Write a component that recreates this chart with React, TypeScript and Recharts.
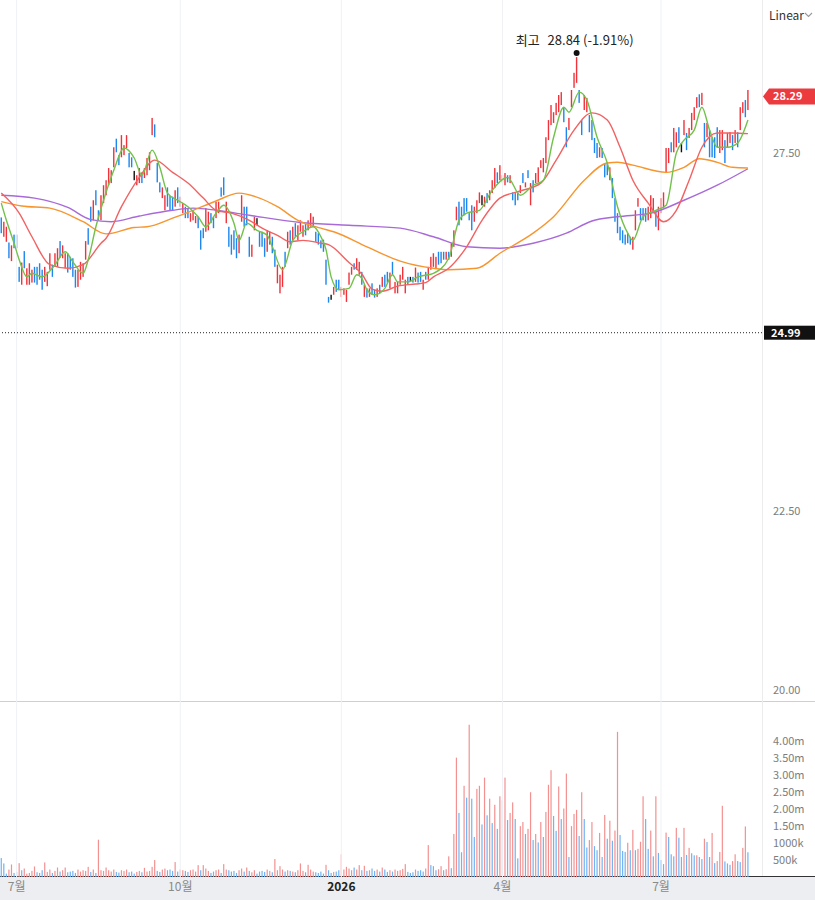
import React from "react";
import {
  ComposedChart,
  Bar,
  Line,
  XAxis,
  YAxis,
  ReferenceLine,
  ReferenceDot,
} from "recharts";

const FONT = '"Noto Sans CJK KR", "Noto Sans", sans-serif';

// daily price bars (low / high), oldest first
const lows = [
  26.38, 26.33, 26.26, 26.03, 25.99, 26.17, 26.17, 25.70, 25.66, 25.89,
  25.66, 25.66, 25.69, 25.69, 25.66, 25.73, 25.59, 25.70, 25.64, 25.87,
  25.77, 25.91, 25.91, 26.04, 26.03, 25.89, 25.83, 25.87, 25.77, 25.62,
  25.63, 25.73, 25.77, 26.01, 26.22, 26.54, 26.56, 26.77, 26.56, 26.56,
  26.80, 26.91, 27.05, 27.08, 27.30, 27.51, 27.33, 27.44, 27.47, 27.57,
  27.30, 27.30, 27.12, 27.05, 27.08, 27.08, 27.15, 27.19, 27.26, 27.75,
  27.72, 27.09, 26.95, 26.87, 26.70, 26.75, 26.70, 26.70, 26.75, 26.80,
  26.75, 26.66, 26.59, 26.59, 26.54, 26.56, 26.52, 26.45, 26.15, 26.31,
  26.40, 26.42, 26.52, 26.45, 26.59, 26.66, 26.89, 26.91, 26.52, 26.19,
  26.08, 26.15, 26.03, 26.10, 26.54, 26.47, 26.49, 26.05, 26.05, 26.42,
  26.49, 26.19, 26.19, 26.05, 26.12, 26.22, 26.10, 25.91, 25.68, 25.54,
  25.63, 25.91, 26.17, 26.22, 26.28, 26.33, 26.28, 26.40, 26.33, 26.35,
  26.42, 26.47, 26.47, 26.26, 26.22, 26.17, 26.12, 25.66, 25.41, 25.45,
  25.52, 25.56, 25.59, 25.49, 25.52, 25.42, 25.66, 25.80, 25.87, 25.87,
  25.80, 25.66, 25.49, 25.48, 25.49, 25.52, 25.48, 25.49, 25.54, 25.63,
  25.63, 25.69, 25.61, 25.80, 25.54, 25.54, 25.66, 25.73, 25.54, 25.66,
  25.70, 25.69, 25.70, 25.69, 25.70, 25.59, 25.73, 25.73, 25.87, 25.91,
  25.89, 25.94, 25.96, 26.01, 26.01, 26.01, 26.05, 26.19, 26.56, 26.49,
  26.56, 26.63, 26.68, 26.56, 26.42, 26.54, 26.66, 26.80, 26.77, 26.75,
  26.80, 26.84, 26.94, 27.01, 27.08, 27.12, 27.09, 27.05, 27.09, 27.08,
  26.84, 26.77, 26.84, 26.94, 27.08, 27.02, 27.15, 26.77, 26.95, 27.08,
  27.09, 27.29, 27.23, 27.36, 27.68, 27.89, 27.92, 28.03, 28.07, 28.17,
  27.93, 27.58, 27.82, 28.14, 28.41, 28.48, 28.20, 27.75, 28.10, 28.07,
  27.79, 27.68, 27.50, 27.43, 27.44, 27.43, 27.16, 27.19, 27.12, 26.87,
  26.54, 26.38, 26.28, 26.24, 26.22, 26.24, 26.22, 26.15, 26.42, 26.75,
  26.56, 26.56, 26.54, 26.56, 26.59, 26.66, 26.47, 26.42, 26.66, 26.73,
  27.22, 27.36, 27.51, 27.51, 27.58, 27.64, 27.51, 27.75, 27.54, 27.71,
  27.82, 27.96, 28.13, 28.14, 28.17, 27.58, 27.72, 27.44, 27.44, 27.43,
  27.58, 27.50, 27.54, 27.36, 27.58, 27.64, 27.54, 27.64, 27.58, 27.82,
  28.06, 28.00, 28.10,
];

const highs = [
  26.60, 26.54, 26.47, 26.25, 26.21, 26.36, 26.36, 25.91, 25.97, 26.13,
  25.89, 25.96, 25.87, 25.91, 25.91, 25.96, 25.87, 25.91, 25.84, 26.10,
  25.94, 26.10, 26.17, 26.27, 26.21, 26.10, 26.10, 26.05, 26.03, 25.87,
  25.87, 25.98, 25.96, 26.27, 26.45, 26.75, 26.84, 26.98, 26.70, 26.91,
  27.05, 27.12, 27.29, 27.26, 27.58, 27.70, 27.47, 27.75, 27.61, 27.75,
  27.50, 27.44, 27.25, 27.19, 27.29, 27.23, 27.29, 27.43, 27.51, 27.99,
  27.90, 27.36, 27.09, 27.02, 26.91, 27.02, 26.90, 26.89, 26.98, 27.02,
  26.89, 26.80, 26.75, 26.73, 26.66, 26.70, 26.62, 26.61, 26.42, 26.45,
  26.73, 26.68, 26.66, 26.61, 26.82, 26.82, 27.02, 27.16, 26.82, 26.47,
  26.36, 26.42, 26.31, 26.36, 26.91, 26.75, 26.75, 26.33, 26.22, 26.61,
  26.59, 26.40, 26.40, 26.31, 26.42, 26.40, 26.33, 26.15, 25.94, 25.80,
  25.91, 26.12, 26.40, 26.42, 26.47, 26.52, 26.49, 26.56, 26.49, 26.52,
  26.56, 26.66, 26.61, 26.40, 26.38, 26.28, 26.29, 26.01, 25.49, 25.52,
  25.63, 25.73, 25.73, 25.63, 25.61, 25.59, 25.83, 25.91, 25.96, 26.03,
  25.98, 25.84, 25.66, 25.61, 25.61, 25.68, 25.59, 25.61, 25.66, 25.77,
  25.80, 25.84, 25.83, 25.98, 25.70, 25.70, 25.80, 25.91, 25.73, 25.77,
  25.77, 25.77, 25.90, 25.83, 25.84, 25.73, 25.84, 25.91, 26.05, 26.10,
  26.05, 26.12, 26.12, 26.12, 26.12, 26.12, 26.24, 26.42, 26.75, 26.82,
  26.75, 26.87, 26.87, 26.66, 26.77, 26.75, 26.84, 26.95, 26.91, 26.89,
  26.94, 26.98, 27.12, 27.29, 27.23, 27.33, 27.19, 27.22, 27.19, 27.19,
  26.95, 26.94, 26.95, 27.05, 27.22, 27.09, 27.26, 27.08, 27.12, 27.22,
  27.30, 27.40, 27.43, 27.72, 27.96, 28.17, 28.07, 28.20, 28.31, 28.35,
  28.14, 27.86, 27.99, 28.38, 28.62, 28.84, 28.38, 27.96, 28.31, 28.27,
  28.03, 27.96, 27.71, 27.64, 27.58, 27.57, 27.36, 27.37, 27.30, 27.15,
  26.87, 26.66, 26.47, 26.42, 26.36, 26.38, 26.33, 26.33, 26.70, 26.87,
  26.73, 26.73, 26.73, 26.75, 26.91, 26.87, 26.68, 26.75, 26.87, 26.95,
  27.57, 27.57, 27.65, 27.85, 27.79, 27.86, 27.64, 27.96, 27.78, 27.85,
  28.06, 28.14, 28.28, 28.32, 28.34, 27.92, 27.92, 27.82, 27.72, 27.72,
  27.86, 27.82, 27.82, 27.68, 27.78, 27.79, 27.75, 27.82, 27.79, 28.14,
  28.21, 28.24, 28.38,
];

// r = up, b = down, k = unchanged
const barDir =
  "brrbrbbbrb" + "rrrbbbbrrr" + "brrbrrbbbb" + "rrrrbbrbbr" + "rrrrrbbrrr" +
  "bbkrrbrrrr" + "bbbrrbbbrb" + "rrbbrrrbbb" + "rrbbrrbbrb" + "bbbrrbbbrr" +
  "kbbbrrbbrr" + "rbrbrbrrrb" + "rrrbbbbbbk" + "rbbrrrrrbr" + "rbrbrbbrbr" +
  "bbrbrrrrrb" + "kbrbbrbrrr" + "rbbbrbrrrb" + "bbbbbrrrkr" + "brrrbrrrbr" +
  "bbbrbrbrbr" + "rrrrrrrrrr" + "bbrrrrbbrr" + "bbbbrbbbrb" + "bbbbbbbrrr" +
  "bbbrrrbrrr" + "rrbrrbkrbr" + "rrrbrbrbbb" + "brrbrrbrbr" + "rbr";

// volume, millions of shares
const volumes = [
  0.56, 0.40, 0.10, 0.22, 0.37, 0.12, 0.15, 0.41, 0.20, 0.25,
  0.10, 0.12, 0.18, 0.31, 0.14, 0.12, 0.20, 0.43, 0.15, 0.22,
  0.12, 0.18, 0.28, 0.16, 0.20, 0.28, 0.14, 0.16, 0.18, 0.12,
  0.22, 0.16, 0.20, 0.18, 0.30, 0.15, 0.22, 0.12, 1.10, 0.20,
  0.18, 0.28, 0.20, 0.16, 0.22, 0.15, 0.13, 0.20, 0.18, 0.22,
  0.14, 0.16, 0.10, 0.15, 0.18, 0.14, 0.27, 0.16, 0.18, 0.30,
  0.50, 0.18, 0.15, 0.22, 0.25, 0.20, 0.22, 0.18, 0.44, 0.16,
  0.22, 0.20, 0.18, 0.15, 0.20, 0.22, 0.16, 0.35, 0.20, 0.35,
  0.25, 0.18, 0.12, 0.16, 0.20, 0.22, 0.12, 0.38, 0.22, 0.20,
  0.16, 0.18, 0.12, 0.20, 0.25, 0.16, 0.28, 0.18, 0.14, 0.20,
  0.10, 0.16, 0.18, 0.15, 0.22, 0.18, 0.14, 0.53, 0.20, 0.32,
  0.22, 0.16, 0.20, 0.18, 0.16, 0.14, 0.20, 0.40, 0.18, 0.14,
  0.36, 0.22, 0.16, 0.14, 0.12, 0.16, 0.10, 0.36, 0.20, 0.12,
  0.15, 0.16, 0.20, 0.67, 0.22, 0.30, 0.25, 0.20, 0.28, 0.22,
  0.35, 0.20, 0.33, 0.18, 0.20, 0.25, 0.18, 0.22, 0.16, 0.28,
  0.22, 0.15, 0.20, 0.16, 0.22, 0.18, 0.20, 0.24, 0.38, 0.15,
  0.12, 0.14, 0.22, 0.18, 0.20, 0.16, 0.25, 0.94, 0.35, 0.32,
  0.20, 0.23, 0.32, 0.20, 0.23, 0.61, 0.26, 1.27, 3.52, 1.89,
  0.73, 2.69, 2.34, 4.49, 2.31, 1.18, 2.60, 2.69, 1.55, 2.93,
  1.82, 2.31, 1.59, 2.13, 1.42, 2.38, 2.26, 2.93, 1.68, 1.89,
  2.20, 1.71, 0.55, 1.50, 1.62, 1.27, 1.42, 2.50, 1.09, 1.27,
  1.02, 1.62, 1.18, 1.92, 2.72, 3.15, 1.80, 1.36, 2.67, 1.71,
  2.02, 3.05, 0.59, 1.50, 1.86, 1.98, 1.21, 2.50, 1.71, 0.87,
  1.09, 1.62, 0.91, 0.79, 1.30, 0.59, 1.83, 1.13, 1.66, 1.07,
  1.37, 4.28, 1.24, 0.77, 0.74, 1.01, 0.79, 1.39, 0.79, 0.83,
  1.04, 2.38, 1.71, 0.83, 1.37, 0.61, 2.38, 0.71, 0.50, 0.38,
  1.31, 1.18, 0.67, 0.61, 1.45, 1.16, 0.59, 1.45, 0.65, 0.86,
  0.70, 0.64, 0.64, 0.59, 0.53, 1.13, 1.03, 0.59, 1.30, 0.41,
  0.47, 0.74, 2.10, 0.46, 0.40, 0.36, 0.47, 0.67, 0.47, 0.44,
  0.86, 1.49, 0.73,
];

const volDir =
  "bbbrrbbrbr" + "rrrrbbbrrr" + "brrbrrbbbb" + "rrrrrbrbrr" + "rrrrrbbrrr" +
  "bbbrrbrrrr" + "rbbrrbbbrb" + "rrbbrrrrbr" + "rrbbrrbrrb" + "bbbrrbrbrr" +
  "bbbbrrbrrr" + "rbrbrbrrrb" + "rrrbbbbrbb" + "rbbrrrrrbr" + "rbrbrbbrbr" +
  "bbrbrrrrrb" + "bbrbbbrrbb" + "brrbrrbrrb" + "brbrbbrrbr" + "brbrbrbrbr" +
  "rbbrrbrrbr" + "brbrrrbbrb" + "rrbrrrbrbb" + "rrbbrbrbrb" + "rrbbbrbrbr" +
  "rrbbrbrbbb" + "rbbbrbbrbr" + "bbrbbrbbrb" + "rrrbbbrrbb" + "rrb";

// moving averages: [bar index, value]
const ma5Pts: [number, number][] = [
  [0, 26.8], [2, 26.56], [5, 26.24], [7, 26.01], [10, 25.77], [12, 25.82],
  [16, 25.77], [21, 25.94], [25, 26.12], [28, 25.98], [32, 25.82], [34, 26.01],
  [37, 26.47], [40, 26.84], [44, 27.26], [48, 27.57], [52, 27.43], [55, 27.19],
  [59, 27.54], [62, 27.3], [65, 26.94], [69, 26.84], [73, 26.75], [77, 26.61],
  [80, 26.47], [84, 26.66], [87, 26.77], [91, 26.52], [93, 26.28], [96, 26.52],
  [100, 26.42], [104, 26.35], [106, 26.19], [110, 25.87], [114, 26.28],
  [118, 26.4], [122, 26.47], [125, 26.33], [127, 26.15], [129, 25.77],
  [132, 25.59], [136, 25.61], [139, 25.8], [141, 25.75], [143, 25.59],
  [146, 25.52], [150, 25.61], [153, 25.8], [155, 25.7], [159, 25.7],
  [163, 25.77], [169, 25.82], [175, 26.03], [179, 26.56], [182, 26.66],
  [187, 26.7], [192, 26.98], [198, 27.16], [203, 26.91], [208, 27.05],
  [212, 27.12], [216, 27.72], [220, 28.14], [222, 28.07], [226, 28.35],
  [229, 28.24], [233, 27.72], [237, 27.36], [241, 26.75], [245, 26.38],
  [247, 26.28], [251, 26.61], [256, 26.7], [260, 26.77], [264, 27.5],
  [267, 27.68], [271, 27.82], [274, 28.14], [277, 27.82], [280, 27.58],
  [284, 27.58], [288, 27.64], [292, 27.96],
];

const ma20Pts: [number, number][] = [
  [0, 26.94], [7, 26.66], [12, 26.33], [19, 25.94], [26, 25.89], [32, 25.94],
  [39, 26.24], [41, 26.31], [47, 26.75], [54, 27.16], [60, 27.4], [67, 27.23],
  [73, 27.08], [79, 26.87], [84, 26.7], [90, 26.66], [97, 26.56], [102, 26.45],
  [108, 26.35], [113, 26.26], [118, 26.28], [125, 26.24], [128, 26.22],
  [136, 25.97], [141, 25.81], [145, 25.6], [149, 25.57], [155, 25.64],
  [162, 25.67], [166, 25.69], [169, 25.77], [175, 25.89], [182, 26.19],
  [188, 26.56], [195, 26.87], [202, 26.96], [211, 27.08], [217, 27.4],
  [224, 27.82], [231, 28.06], [237, 27.96], [242, 27.58], [247, 27.12],
  [253, 26.8], [259, 26.54], [264, 26.7], [269, 27.12], [274, 27.58],
  [280, 27.78], [286, 27.78], [292, 27.77],
];

const ma60Pts: [number, number][] = [
  [0, 26.82], [8, 26.76], [19, 26.73], [32, 26.54], [41, 26.37], [52, 26.46],
  [57, 26.47], [67, 26.59], [75, 26.7], [84, 26.83], [93, 26.94], [101, 26.87],
  [108, 26.75], [116, 26.56], [125, 26.45], [130, 26.4], [143, 26.19],
  [156, 25.99], [169, 25.89], [175, 25.87], [186, 25.89], [195, 26.1],
  [208, 26.38], [216, 26.61], [228, 27.12], [237, 27.36], [241, 27.37],
  [247, 27.33], [260, 27.23], [267, 27.3], [273, 27.42], [280, 27.37],
  [286, 27.3], [292, 27.29],
];

const ma120Pts: [number, number][] = [
  [0, 26.91], [13, 26.87], [26, 26.74], [35, 26.57], [43, 26.54], [54, 26.62],
  [67, 26.7], [75, 26.73], [84, 26.7], [97, 26.63], [117, 26.53], [136, 26.49],
  [156, 26.45], [169, 26.33], [182, 26.19], [195, 26.17], [208, 26.24],
  [221, 26.38], [231, 26.55], [241, 26.61], [254, 26.66], [267, 26.84],
  [280, 27.05], [292, 27.28],
];

const priceTicks = [20, 22.5, 27.5];
const volumeTicks = [0.5, 1, 1.5, 2, 2.5, 3, 3.5, 4];
const xTickIdx = [6, 70, 133, 196, 258];
const xTickText = ["7월", "10월", "2026", "4월", "7월"];

const lastPrice = 28.29;
const refPrice = 24.99;
const peakIdx = 225;
const peakPrice = 28.84;
const peakChange = "(-1.91%)";

const N = highs.length;
const PAD = 5;

type Row = {
  i: number;
  range: [number, number] | null;
  vol: number | null;
  ma5: number | null;
  ma20: number | null;
  ma60: number | null;
  ma120: number | null;
};

const rows: Row[] = Array.from({ length: N + PAD }, (_, i) => ({
  i,
  range: i < N ? [lows[i], highs[i]] : null,
  vol: i < N ? volumes[i] : null,
  ma5: null,
  ma20: null,
  ma60: null,
  ma120: null,
}));
ma5Pts.forEach(([i, v]) => (rows[i].ma5 = v));
ma20Pts.forEach(([i, v]) => (rows[i].ma20 = v));
ma60Pts.forEach(([i, v]) => (rows[i].ma60 = v));
ma120Pts.forEach(([i, v]) => (rows[i].ma120 = v));

const stickColor: Record<string, string> = { r: "#f0333a", b: "#1d87ee", k: "#111111" };

const PriceStick = (p: any) => {
  const { x, y, width, height, payload } = p;
  if (!payload || payload.range == null) return null;
  const top = Math.min(y, y + height);
  const h = Math.max(Math.abs(height), 1);
  return (
    <rect
      x={x + width / 2 - 0.7}
      y={top}
      width={1.4}
      height={h}
      fill={stickColor[barDir[payload.i]]}
    />
  );
};

const VolStick = (p: any) => {
  const { x, y, width, height, payload } = p;
  if (!payload || payload.vol == null) return null;
  return (
    <rect
      x={x + width / 2 - 0.6}
      y={y}
      width={1.2}
      height={Math.max(height, 0.5)}
      fill={volDir[payload.i] === "r" ? "#f39191" : "#72b3f2"}
    />
  );
};

const RedTag = (p: any) => {
  const vb = p.viewBox;
  const x0 = vb.x + vb.width;
  const y = vb.y;
  return (
    <g>
      <polygon
        points={`${x0 + 1},${y} ${x0 + 7},${y - 8} 815,${y - 8} 815,${y + 8} ${x0 + 7},${y + 8}`}
        fill="#ec3b3f"
      />
      <text x={x0 + 11} y={y + 4} fill="#fff" fontSize={11} fontWeight={700} fontFamily={FONT}>
        {lastPrice.toFixed(2)}
      </text>
    </g>
  );
};

const BlackTag = (p: any) => {
  const vb = p.viewBox;
  const x0 = vb.x + vb.width;
  const y = vb.y;
  return (
    <g>
      <rect x={x0 + 2} y={y - 7} width={815 - x0 - 2} height={14} fill="#111" />
      <text x={x0 + 9} y={y + 4} fill="#fff" fontSize={11} fontWeight={700} fontFamily={FONT}>
        {refPrice.toFixed(2)}
      </text>
    </g>
  );
};

const PeakMark = (p: any) => {
  const { cx, cy } = p;
  return (
    <g>
      <circle cx={cx} cy={cy - 4} r={3} fill="#111" />
      <text x={cx - 2} y={cy - 12} textAnchor="middle" fontSize={13} fill="#222" fontFamily={FONT}>
        <tspan>최고</tspan>
        <tspan dx={8}>{peakPrice.toFixed(2)} {peakChange}</tspan>
      </text>
    </g>
  );
};

const MonthTick = (p: any) => {
  const { x, y, payload } = p;
  const k = xTickIdx.indexOf(payload.value);
  if (k < 0) return null;
  const t = xTickText[k];
  const year = t === "2026";
  return (
    <text
      x={x}
      y={y + 14}
      textAnchor="middle"
      fontSize={12}
      fontFamily={FONT}
      fill={year ? "#222" : "#8a8a8a"}
      fontWeight={year ? 600 : 400}
    >
      {t}
    </text>
  );
};

const fmtVol = (v: number) => (v < 1.5 ? `${Math.round(v * 1000)}k` : `${v.toFixed(2)}m`);

const axisTick = { fill: "#7d7d7d", fontSize: 11, fontFamily: FONT };

const maLine = (key: string, color: string) => (
  <Line
    key={key}
    dataKey={key}
    type="monotone"
    stroke={color}
    strokeWidth={1.4}
    dot={false}
    activeDot={false}
    connectNulls
    isAnimationActive={false}
  />
);

export default function App() {
  return (
    <div
      style={{
        position: "absolute",
        left: 0,
        top: 0,
        width: 815,
        height: 900,
        background: "#fff",
        overflow: "hidden",
        fontFamily: FONT,
      }}
    >
      {/* x-axis band and panel separators */}
      <div style={{ position: "absolute", left: 0, top: 877, width: 815, height: 23, background: "#eceef1" }} />
      <div style={{ position: "absolute", left: 0, top: 876, width: 815, height: 1, background: "#333" }} />
      <div style={{ position: "absolute", left: 0, top: 701, width: 815, height: 1, background: "#cfcfcf" }} />
      <div style={{ position: "absolute", left: 762, top: 0, width: 1, height: 876, background: "#ececec" }} />

      <div style={{ position: "absolute", left: 0, top: 0 }}>
        <ComposedChart width={815} height={701} data={rows} margin={{ top: 0, right: 0, bottom: 0, left: 0 }}>
          <XAxis dataKey="i" type="category" hide />
          <YAxis
            orientation="right"
            width={53}
            domain={[19.846, 29.637]}
            ticks={priceTicks}
            interval={0}
            tickFormatter={(v: number) => v.toFixed(2)}
            axisLine={false}
            tickLine={false}
            tickMargin={5}
            tick={axisTick}
          />
          {xTickIdx.map((t) => (
            <ReferenceLine key={t} x={t} stroke="#eff1f4" />
          ))}
          <ReferenceLine y={refPrice} stroke="#222" strokeDasharray="1 2" label={BlackTag} />
          <ReferenceLine y={lastPrice} stroke="none" label={RedTag} />
          <Bar dataKey="range" shape={PriceStick} isAnimationActive={false} />
          {maLine("ma120", "#a86ad8")}
          {maLine("ma60", "#f7952e")}
          {maLine("ma20", "#f26262")}
          {maLine("ma5", "#72c14b")}
          <ReferenceDot x={peakIdx} y={peakPrice} r={0} shape={PeakMark} />
        </ComposedChart>
      </div>

      <div style={{ position: "absolute", left: 0, top: 701 }}>
        <ComposedChart width={815} height={199} data={rows} margin={{ top: 0, right: 0, bottom: 0, left: 0 }}>
          <XAxis
            dataKey="i"
            type="category"
            ticks={xTickIdx}
            interval={0}
            height={23}
            axisLine={false}
            tickLine={false}
            tickSize={0}
            tickMargin={0}
            tick={MonthTick}
          />
          <YAxis
            orientation="right"
            width={53}
            domain={[0, 5.19]}
            ticks={volumeTicks}
            interval={0}
            tickFormatter={fmtVol}
            axisLine={false}
            tickLine={false}
            tickMargin={5}
            tick={axisTick}
          />
          {xTickIdx.map((t) => (
            <ReferenceLine key={t} x={t} stroke="#eff1f4" />
          ))}
          <Bar dataKey="vol" shape={VolStick} isAnimationActive={false} />
        </ComposedChart>
      </div>

      <div style={{ position: "absolute", left: 769, top: 6, fontSize: 12, color: "#333" }}>Linear</div>
      <svg style={{ position: "absolute", left: 804, top: 12 }} width={9} height={6}>
        <path d="M1 1 L4.5 4.5 L8 1" stroke="#999" fill="none" strokeWidth={1.1} />
      </svg>
    </div>
  );
}
